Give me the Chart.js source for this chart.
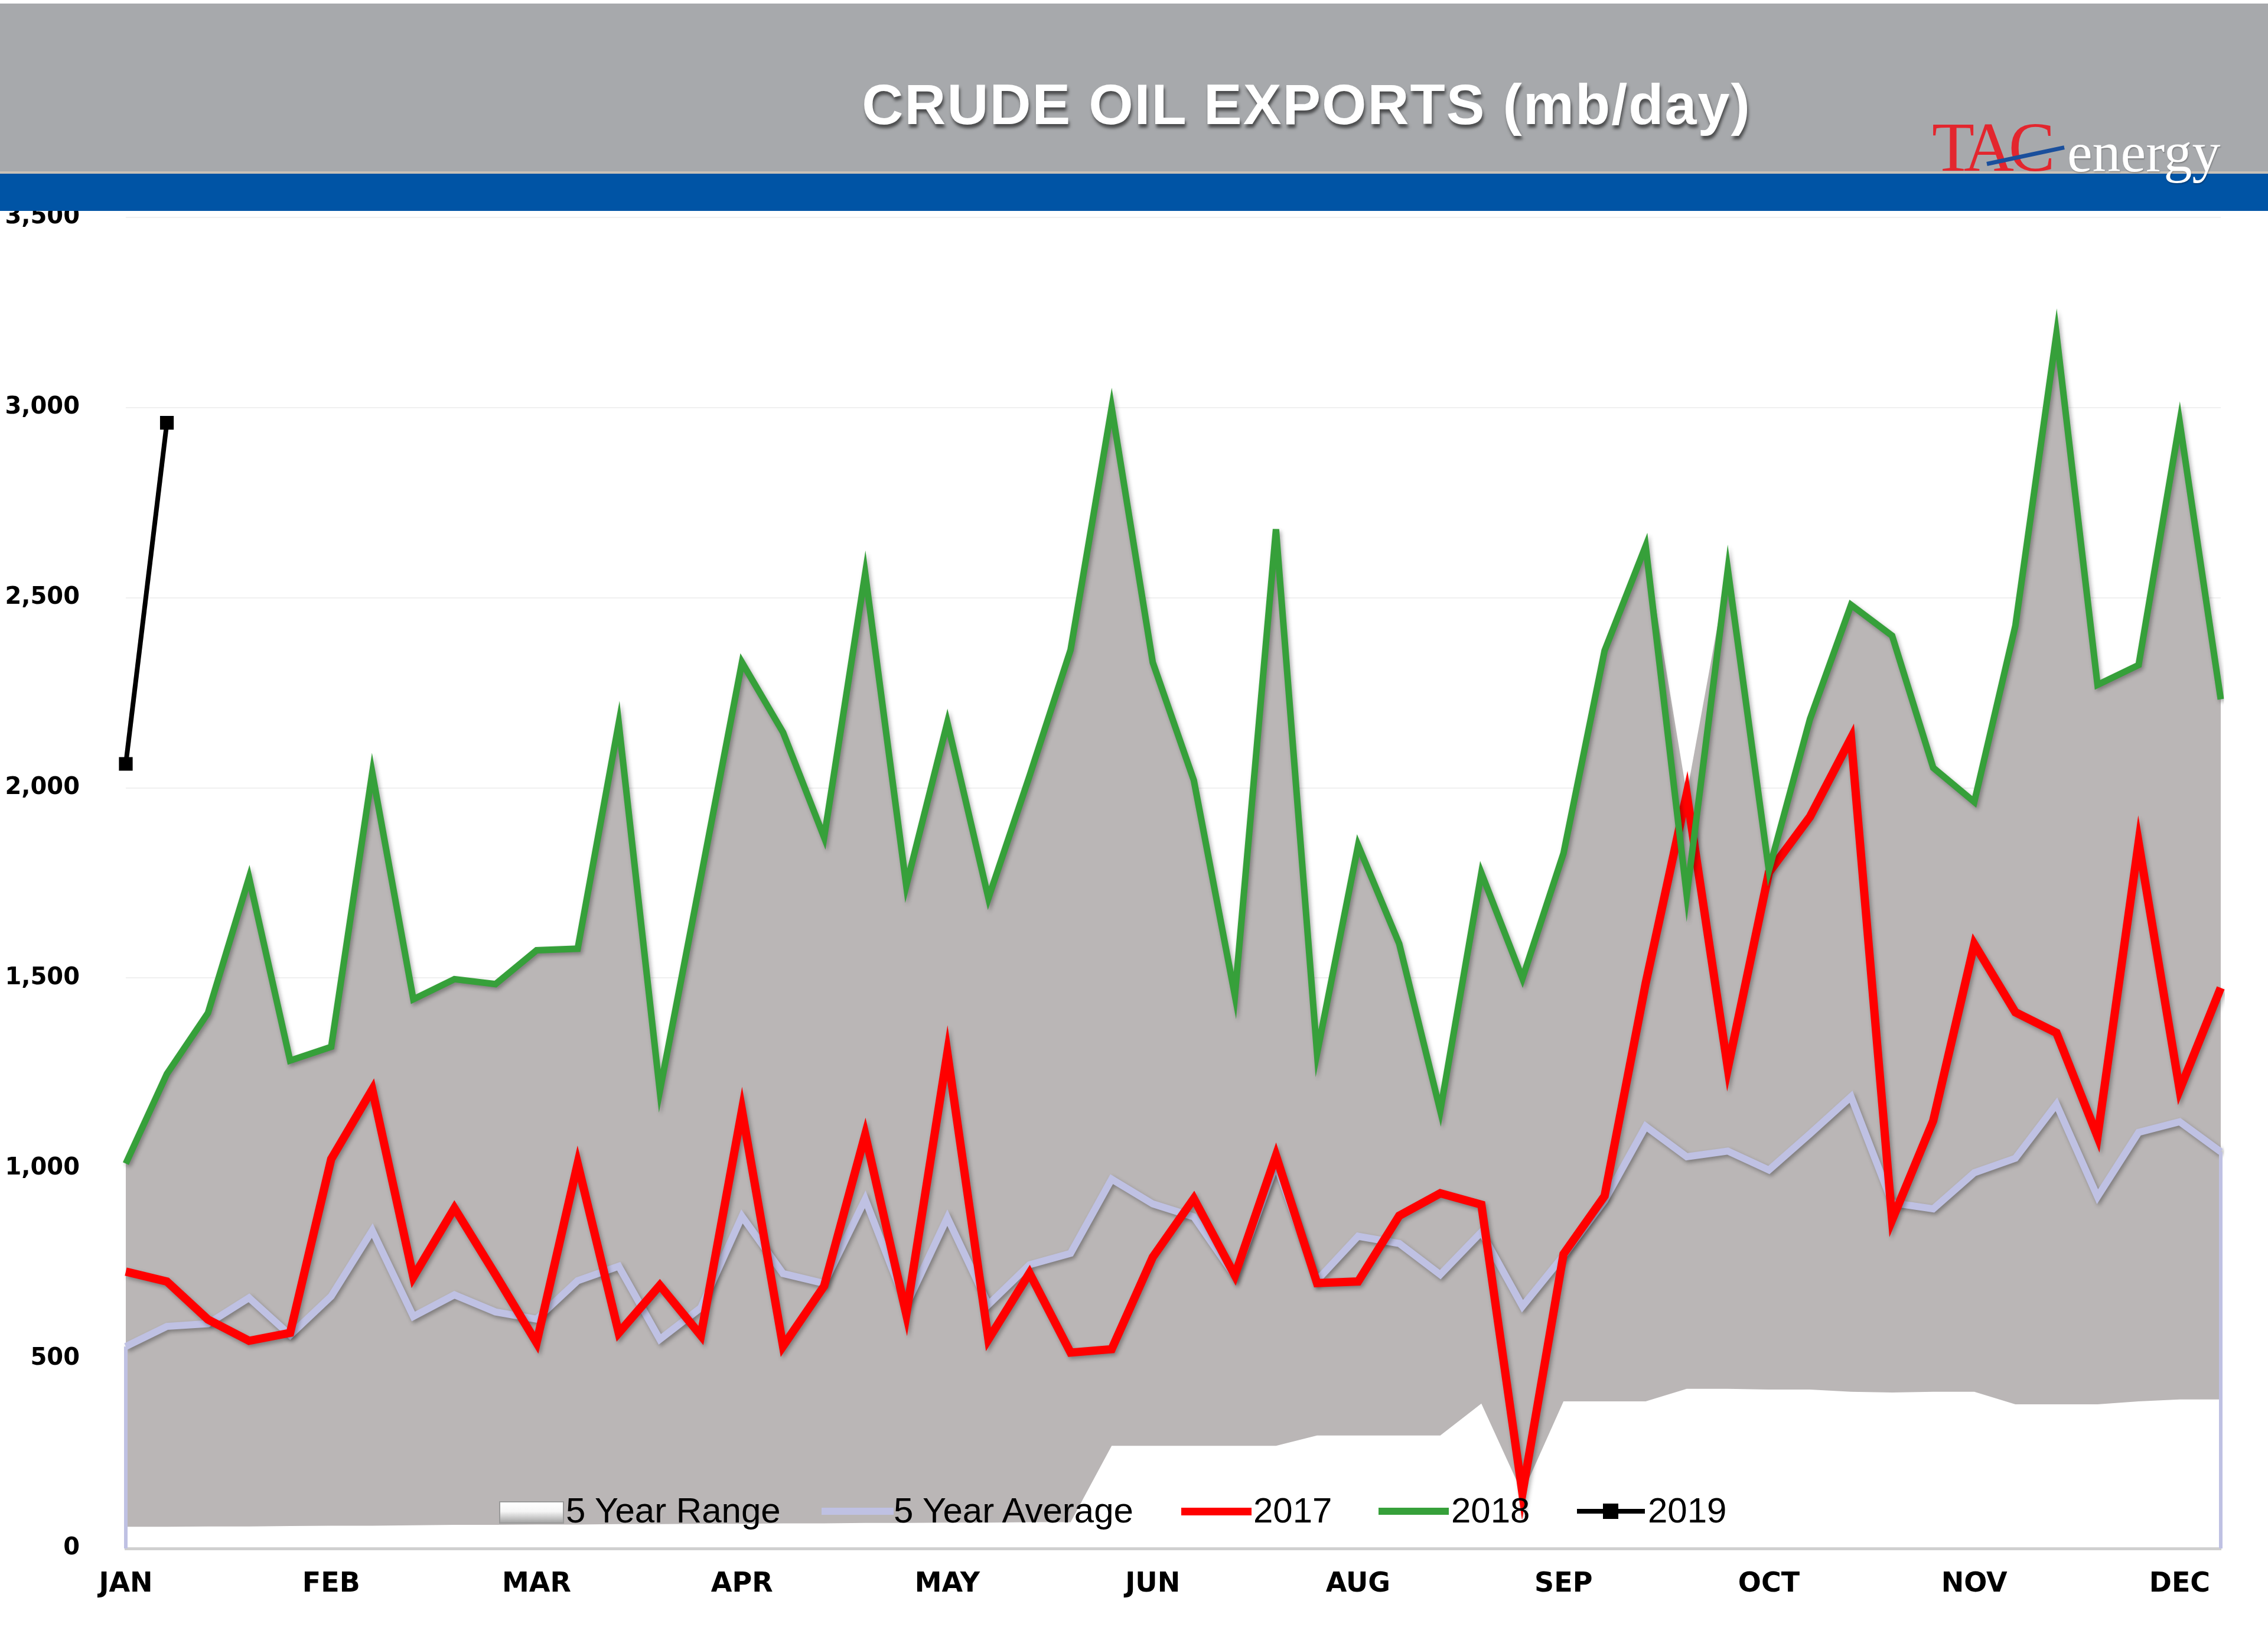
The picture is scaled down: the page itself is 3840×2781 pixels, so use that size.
<!DOCTYPE html>
<html>
<head>
<meta charset="utf-8">
<script src="https://cdn.jsdelivr.net/npm/chart.js@4.4.1/dist/chart.umd.min.js"></script>
<style>
  html, body { margin:0; padding:0; background:#ffffff; }
  body { width:3840px; height:2781px; position:relative; overflow:hidden; }
  #c { position:absolute; left:0; top:0; }
  #hdr { position:absolute; left:0; top:6px; width:3840px; height:288px; background:#a7a9ac; }
  #hdrline { position:absolute; left:0; top:290px; width:3840px; height:4px; background:#c9c2b8; }
  #band { position:absolute; left:0; top:294px; width:3840px; height:63px; background:#0054a5; }
  #title { position:absolute; left:2212px; top:128px; transform:translateX(-50%); white-space:nowrap;
           font-family:"Liberation Sans", Arial, sans-serif; font-weight:bold; font-size:97px; line-height:1;
           letter-spacing:2px; color:#ffffff; text-shadow:2px 6px 5px rgba(0,0,0,0.55); }
  .logo { position:absolute; white-space:nowrap; font-family:"Liberation Serif","Times New Roman",serif; line-height:1; }
  #tac { left:3271px; top:191px; font-size:118px; color:#e3262e; letter-spacing:-9px; }
  #energy { left:3500px; top:210px; font-size:96px; color:#ffffff; text-shadow:1px 2px 2px rgba(0,0,0,0.25); }
  #slash { position:absolute; left:3364px; top:274px; width:134px; height:7px; background:#1a4f9c;
           transform:rotate(-12deg); transform-origin:0 50%; }
  .lg { position:absolute; }
  .lt { position:absolute; top:2527px; font-family:"Liberation Sans", Arial, sans-serif; font-size:60px; line-height:1; color:#000; white-space:nowrap; }
</style>
</head>
<body>
<canvas id="c" width="3840" height="2781"></canvas>
<div id="hdr"></div>
<div id="hdrline"></div>
<div id="band"></div>
<div id="title">CRUDE OIL EXPORTS (mb/day)</div>
<div class="logo" id="tac">TAC</div>
<div class="logo" id="energy">energy</div>
<div id="slash"></div>

<div class="lg" style="left:845px;top:2541px;width:106px;height:34px;border:2px solid #9a9a9a;background:linear-gradient(to bottom,#ffffff 0%,#f6f6f6 45%,#a6a6a6 100%);"></div>
<div class="lt" style="left:958px;">5 Year Range</div>
<div class="lg" style="left:1391px;top:2552px;width:122px;height:12px;background:#bfc1e3;"></div>
<div class="lt" style="left:1513px;">5 Year Average</div>
<div class="lg" style="left:2000px;top:2552px;width:119px;height:13px;background:#ff0000;"></div>
<div class="lt" style="left:2122px;">2017</div>
<div class="lg" style="left:2334px;top:2552px;width:119px;height:12px;background:#36a03a;"></div>
<div class="lt" style="left:2457px;">2018</div>
<div class="lg" style="left:2670px;top:2554px;width:115px;height:8px;background:#000;"></div>
<div class="lg" style="left:2714px;top:2545px;width:26px;height:26px;background:#000;"></div>
<div class="lt" style="left:2790px;">2019</div>

<script>
// ---- data ----
const monthLabels = ['JAN','FEB','MAR','APR','MAY','JUN','AUG','SEP','OCT','NOV','DEC'];
const weekCount = 52;

const exports2017 = [728, 702, 602, 546, 567, 1024, 1207, 714, 895, 720, 541, 1012, 567, 692, 560, 1152, 532, 690, 1088, 616,
                     1303, 550, 724, 515, 524, 766, 920, 718, 1033, 698, 702, 875, 934, 904, 145, 774, 927, 1486, 1984, 1263,
                     1778, 1924, 2131, 864, 1125, 1589, 1410, 1356, 1083, 1856, 1206, 1474];

const exports2018 = [1012, 1248, 1408, 1764, 1283, 1319, 2040, 1444, 1497, 1484, 1573, 1577, 2170, 1203, 1765, 2330, 2146, 1870, 2564, 1743,
                     2172, 1710, 2031, 2363, 3000, 2330, 2020, 1454, 2680, 1302, 1849, 1590, 1151, 1776, 1499, 1828, 2361, 2636, 1718, 2574,
                     1783, 2181, 2481, 2400, 2053, 1963, 2426, 3194, 2271, 2323, 2962, 2233];

const exports2019 = [2063, 2960];

const avg5 = [531, 584, 591, 659, 561, 663, 836, 610, 667, 622, 603, 704, 742, 550, 633, 873, 723, 697, 918, 640,
              870, 641, 746, 776, 971, 906, 872, 716, 1011, 705, 821, 802, 720, 832, 637, 770, 915, 1110, 1030, 1045,
              995, 1090, 1188, 909, 893, 988, 1026, 1168, 925, 1094, 1122, 1043];

const rangeLow = [57, 57, 58, 58, 59, 60, 60, 61, 62, 62, 63, 63, 64, 64, 65, 65, 66, 66, 67, 67,
                  68, 68, 69, 69, 270, 270, 270, 270, 270, 297, 297, 297, 297, 381, 145, 387, 387, 387, 420, 420,
                  418, 418, 412, 410, 412, 412, 379, 379, 379, 387, 392, 392];

const rangeHigh = [1012, 1248, 1408, 1764, 1283, 1319, 2040, 1444, 1497, 1484, 1573, 1577, 2170, 1203, 1765, 2330, 2146, 1870, 2564, 1743,
                   2172, 1710, 2031, 2363, 3000, 2330, 2020, 1454, 2680, 1302, 1849, 1590, 1151, 1776, 1499, 1828, 2361, 2636, 1984, 2574,
                   1783, 2181, 2481, 2400, 2053, 1963, 2426, 3194, 2271, 2323, 2962, 2233];

const yTicks = { min: 0, max: 3500, step: 500 };

// category labels: a month name every fifth week
const weekLabels = [];
for (let i = 0; i < weekCount; i++) weekLabels.push(i % 5 === 0 ? monthLabels[i / 5] : '');

const shadowPlugin = {
  id: 'lineShadow',
  beforeDatasetDraw(chart, args) {
    const ds = chart.data.datasets[args.index];
    chart.ctx.save();
    if (ds._shadow) {
      chart.ctx.shadowColor = 'rgba(0,0,0,0.32)';
      chart.ctx.shadowBlur = 7;
      chart.ctx.shadowOffsetX = 3;
      chart.ctx.shadowOffsetY = 4;
    }
  },
  afterDatasetDraw(chart, args) {
    chart.ctx.restore();
    const ds = chart.data.datasets[args.index];
    if (ds._edges) {
      const ctx = chart.ctx, xs = chart.scales.x, ys = chart.scales.y;
      const n = ds.data.length - 1;
      ctx.save();
      ctx.strokeStyle = ds.borderColor;
      ctx.lineWidth = 6;
      ctx.beginPath();
      ctx.moveTo(xs.getPixelForValue(0), ys.getPixelForValue(ds.data[0]));
      ctx.lineTo(xs.getPixelForValue(0), ys.getPixelForValue(0));
      ctx.moveTo(xs.getPixelForValue(n), ys.getPixelForValue(ds.data[n]));
      ctx.lineTo(xs.getPixelForValue(n), ys.getPixelForValue(0));
      ctx.stroke();
      ctx.restore();
    }
  }
};

Chart.defaults.font.family = '"DejaVu Sans", sans-serif';

new Chart(document.getElementById('c'), {
  type: 'line',
  data: {
    labels: weekLabels,
    datasets: [
      { label: 'rangeLow', data: rangeLow, borderWidth: 0, borderColor: 'rgba(0,0,0,0)', pointRadius: 0, fill: false, order: 6 },
      { label: '5 Year Range', data: rangeHigh, borderWidth: 0, borderColor: 'rgba(0,0,0,0)', backgroundColor: '#bab6b6', pointRadius: 0, fill: '-1', order: 5 },
      { label: '5 Year Average', data: avg5, borderColor: '#bfc1e3', borderWidth: 12, pointRadius: 0, fill: false, order: 4, _shadow: true, _edges: true },
      { label: '2017', data: exports2017, borderColor: '#ff0000', borderWidth: 14, pointRadius: 0, fill: false, order: 3, _shadow: true },
      { label: '2018', data: exports2018, borderColor: '#36a03a', borderWidth: 11, pointRadius: 0, fill: false, order: 2, _shadow: true },
      { label: '2019', data: exports2019, borderColor: '#000000', borderWidth: 8, pointStyle: 'rect', pointRadius: 15,
        pointBackgroundColor: '#000', pointBorderColor: '#000', pointBorderWidth: 2, fill: false, order: 1 }
    ]
  },
  options: {
    responsive: false,
    animation: false,
    devicePixelRatio: 1,
    layout: { padding: { left: 0, right: 80, top: 368, bottom: 0 } },
    plugins: { legend: { display: false }, tooltip: { enabled: false }, filler: { propagate: false } },
    elements: { line: { tension: 0, borderJoinStyle: 'miter', borderCapStyle: 'butt' } },
    scales: {
      x: {
        type: 'category',
        offset: false,
        grid: { display: false, drawTicks: false },
        border: { display: true, color: '#d0d0d0', width: 5 },
        ticks: {
          autoSkip: false, maxRotation: 0, minRotation: 0, padding: 33,
          color: '#000', font: { size: 46, weight: 'bold' },
          callback: (v, i) => weekLabels[i]
        },
        afterFit(scale) { scale.height = 160; }
      },
      y: {
        min: yTicks.min, max: yTicks.max,
        grid: { color: '#f0f0f0', lineWidth: 2, drawTicks: false },
        border: { display: false },
        ticks: {
          stepSize: yTicks.step, padding: 78, color: '#000',
          font: { size: 40, weight: 'bold' },
          callback: v => v.toLocaleString('en-US')
        },
        afterFit(scale) { scale.width = 213; }
      }
    }
  },
  plugins: [shadowPlugin]
});
</script>
</body>
</html>
